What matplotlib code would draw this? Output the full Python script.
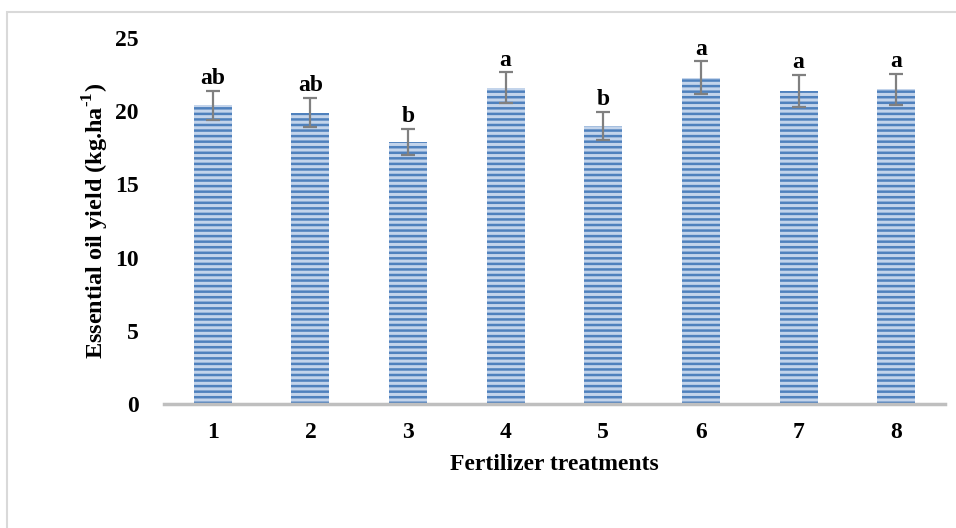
import matplotlib
matplotlib.use('Agg')
import matplotlib.pyplot as plt
from matplotlib.patches import Rectangle

# data
treatments = ['1', '2', '3', '4', '5', '6', '7', '8']
oil_yield = [20.4, 19.9, 17.9, 21.6, 19.0, 22.3, 21.4, 21.5]
yield_err = [1.0, 1.0, 0.9, 1.05, 0.95, 1.1, 1.1, 1.05]
letters = ['ab', 'ab', 'b', 'a', 'b', 'a', 'a', 'a']

plt.rcParams['font.family'] = 'Liberation Serif'
plt.rcParams['font.weight'] = 'bold'
plt.rcParams['font.size'] = 17
plt.rcParams['mathtext.fontset'] = 'custom'
plt.rcParams['mathtext.bf'] = 'Liberation Serif:bold'
plt.rcParams['mathtext.rm'] = 'Liberation Serif:bold'
plt.rcParams['hatch.linewidth'] = 1.8
plt.rcParams['hatch.color'] = '#4f81bd'

fig = plt.figure(figsize=(9.56, 5.28), dpi=100)
ax = fig.add_axes([164 / 956, 1 - 404 / 528, 781 / 956, 366 / 528])

# outer frame (only top and left visible in the original)
fig.patches.append(Rectangle((7 / 956, -0.1), 1.2, (528 - 12) / 528 + 0.1,
                             transform=fig.transFigure, fill=False,
                             edgecolor='#d9d9d9', linewidth=1.5))

x = range(len(treatments))
ax.bar(x, oil_yield, width=0.39, color='#c3d4eb', hatch='---',
       edgecolor='#4f81bd', linewidth=0, zorder=2)
ax.errorbar(x, oil_yield, yerr=yield_err, fmt='none', ecolor='#808080',
            elinewidth=1.6, capsize=5, capthick=1.6, zorder=3)

# significance letters above error bars
for xi, v, e, lab in zip(x, oil_yield, yield_err, letters):
    ax.text(xi, v + e + 0.12, lab, ha='center', va='bottom',
            fontsize=17, fontweight='bold')

ax.set_xlim(-0.5, len(treatments) - 0.5)
ax.set_ylim(0, 25)
ax.set_yticks([0, 5, 10, 15, 20, 25])
ax.set_xticks(list(x))
ax.set_xticklabels(treatments)
ax.tick_params(axis='both', length=0, labelsize=17)
ax.tick_params(axis='y', pad=18)
ax.tick_params(axis='x', pad=13)

for s in ['top', 'right', 'left']:
    ax.spines[s].set_visible(False)
ax.spines['bottom'].set_color('#bfbfbf')
ax.spines['bottom'].set_linewidth(2.5)
ax.spines['bottom'].set_zorder(4)

ax.set_xlabel('Fertilizer treatments', fontsize=17, fontweight='bold', labelpad=8)
ax.set_ylabel(r'Essential oil yield (kg.ha$^{\text{-1}}$)', fontsize=17.5,
              fontweight='bold', labelpad=3)

fig.savefig('out.png', dpi=100)
